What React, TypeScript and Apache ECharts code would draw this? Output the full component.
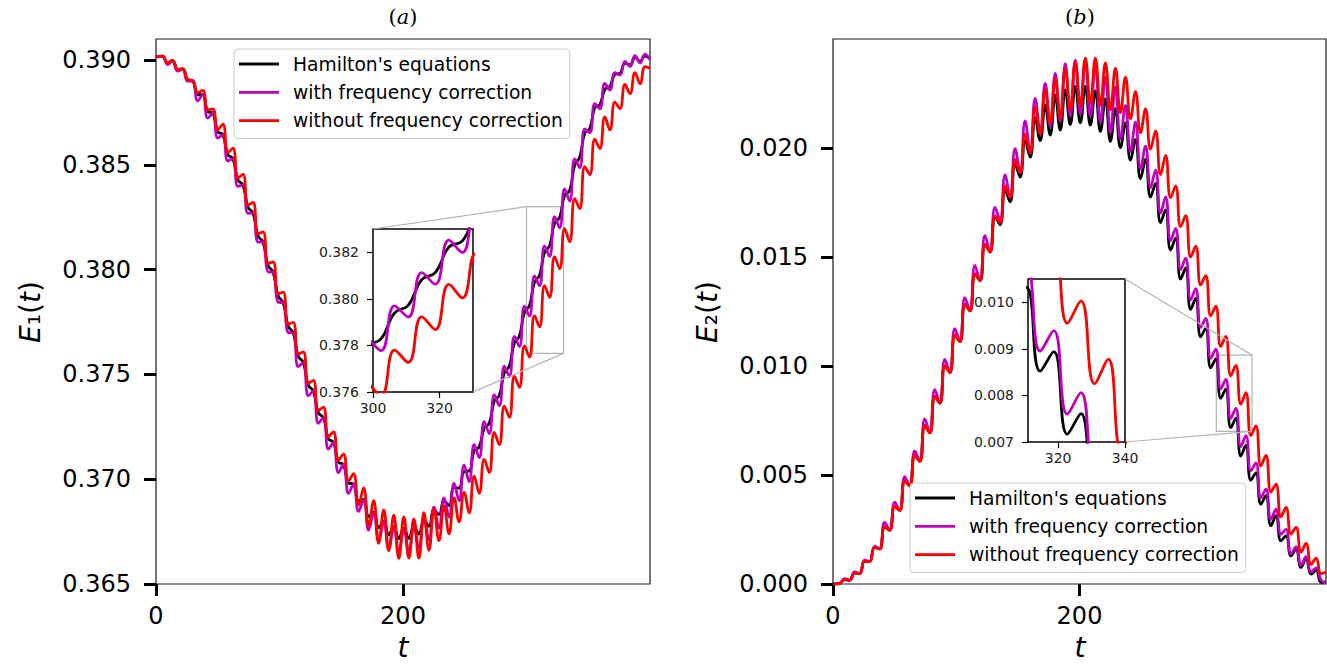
import React, { useEffect, useRef } from "react";
import * as echarts from "echarts";

// time samples (crests / troughs of the fast oscillation)
const T = [0, 5.30, 9.37, 13.44, 17.51, 21.58, 25.65, 29.72, 33.79, 37.86, 41.93, 46.00, 50.07, 54.14, 58.21, 62.28, 66.35, 70.42, 74.49, 78.56, 82.63, 86.70, 90.77, 94.84, 98.91, 102.98, 107.05, 111.12, 115.19, 119.26, 123.33, 127.40, 131.47, 135.54, 139.61, 143.68, 147.75, 151.82, 155.89, 159.96, 164.03, 168.10, 172.17, 176.24, 180.31, 184.38, 188.45, 192.52, 196.59, 200.66, 204.73, 208.80, 212.87, 216.94, 221.01, 225.08, 229.15, 233.22, 237.29, 241.36, 245.43, 249.50, 253.57, 257.64, 261.71, 265.78, 269.85, 273.92, 277.99, 282.06, 286.13, 290.20, 294.27, 298.34, 302.41, 306.48, 310.55, 314.62, 318.69, 322.76, 326.83, 330.90, 334.97, 339.04, 343.11, 347.18, 351.25, 355.32, 359.39, 363.46, 367.53, 371.60, 375.67, 379.74, 383.81, 387.88, 391.95, 396.02, 400];

const E1_HAM = [0.39015, 0.39018, 0.38986, 0.38997, 0.38955, 0.38957, 0.38907, 0.38901, 0.38834, 0.38835, 0.38753, 0.38746, 0.38657, 0.38644, 0.38548, 0.38529, 0.38427, 0.38404, 0.38298, 0.38270, 0.38161, 0.38130, 0.38019, 0.37987, 0.37874, 0.37842, 0.37730, 0.37698, 0.37587, 0.37557, 0.37448, 0.37421, 0.37317, 0.37294, 0.37193, 0.37176, 0.37081, 0.37070, 0.36982, 0.36977, 0.36896, 0.36904, 0.36822, 0.36843, 0.36769, 0.36799, 0.36734, 0.36773, 0.36717, 0.36765, 0.36718, 0.36776, 0.36738, 0.36805, 0.36776, 0.36852, 0.36832, 0.36896, 0.36874, 0.36961, 0.36957, 0.37037, 0.37039, 0.37135, 0.37153, 0.37244, 0.37267, 0.37373, 0.37400, 0.37509, 0.37540, 0.37651, 0.37683, 0.37796, 0.37828, 0.37940, 0.37972, 0.38083, 0.38113, 0.38222, 0.38249, 0.38355, 0.38377, 0.38498, 0.38536, 0.38651, 0.38673, 0.38772, 0.38787, 0.38860, 0.38874, 0.38931, 0.38936, 0.38985, 0.38977, 0.39012, 0.38994, 0.39020, 0.39005];

const E1_WITH = [0.39015, 0.39016, 0.38978, 0.38995, 0.38947, 0.38955, 0.38899, 0.38899, 0.38804, 0.38835, 0.38723, 0.38746, 0.38627, 0.38644, 0.38518, 0.38529, 0.38397, 0.38404, 0.38268, 0.38270, 0.38131, 0.38130, 0.37989, 0.37987, 0.37844, 0.37842, 0.37700, 0.37698, 0.37537, 0.37557, 0.37398, 0.37421, 0.37267, 0.37294, 0.37143, 0.37176, 0.37031, 0.37070, 0.36932, 0.36977, 0.36846, 0.36899, 0.36757, 0.36838, 0.36704, 0.36794, 0.36669, 0.36768, 0.36652, 0.36760, 0.36653, 0.36771, 0.36673, 0.36810, 0.36711, 0.36867, 0.36767, 0.36911, 0.36819, 0.36981, 0.36897, 0.37067, 0.36989, 0.37165, 0.37103, 0.37274, 0.37217, 0.37403, 0.37350, 0.37539, 0.37490, 0.37681, 0.37633, 0.37826, 0.37778, 0.37970, 0.37922, 0.38113, 0.38063, 0.38252, 0.38199, 0.38385, 0.38327, 0.38528, 0.38486, 0.38671, 0.38653, 0.38792, 0.38767, 0.38888, 0.38856, 0.38939, 0.38928, 0.38993, 0.38969, 0.39020, 0.38986, 0.39028, 0.39000];

const E1_WITHOUT = [0.39015, 0.39018, 0.38986, 0.38997, 0.38955, 0.38957, 0.38907, 0.38901, 0.38844, 0.38855, 0.38763, 0.38766, 0.38667, 0.38694, 0.38558, 0.38579, 0.38437, 0.38454, 0.38308, 0.38320, 0.38171, 0.38180, 0.38029, 0.38037, 0.37884, 0.37892, 0.37740, 0.37748, 0.37597, 0.37607, 0.37458, 0.37471, 0.37327, 0.37344, 0.37203, 0.37226, 0.37091, 0.37120, 0.36992, 0.37027, 0.36876, 0.36959, 0.36777, 0.36898, 0.36694, 0.36854, 0.36659, 0.36828, 0.36622, 0.36820, 0.36623, 0.36811, 0.36623, 0.36840, 0.36661, 0.36857, 0.36707, 0.36871, 0.36739, 0.36911, 0.36797, 0.36937, 0.36839, 0.37015, 0.36933, 0.37094, 0.37032, 0.37223, 0.37165, 0.37349, 0.37295, 0.37491, 0.37438, 0.37636, 0.37583, 0.37780, 0.37727, 0.37923, 0.37868, 0.38062, 0.38004, 0.38195, 0.38132, 0.38338, 0.38291, 0.38491, 0.38453, 0.38622, 0.38577, 0.38728, 0.38666, 0.38799, 0.38768, 0.38883, 0.38839, 0.38940, 0.38886, 0.38968, 0.38960];

const E2_HAM = [0.00000, 0.00002, 0.00020, 0.00017, 0.00050, 0.00048, 0.00104, 0.00104, 0.00168, 0.00161, 0.00262, 0.00247, 0.00356, 0.00338, 0.00473, 0.00450, 0.00590, 0.00563, 0.00727, 0.00693, 0.00861, 0.00830, 0.01000, 0.00970, 0.01141, 0.01112, 0.01283, 0.01253, 0.01422, 0.01391, 0.01558, 0.01523, 0.01687, 0.01648, 0.01807, 0.01753, 0.01927, 0.01867, 0.02034, 0.01958, 0.02138, 0.02034, 0.02196, 0.02059, 0.02242, 0.02082, 0.02267, 0.02107, 0.02283, 0.02115, 0.02282, 0.02105, 0.02262, 0.02076, 0.02225, 0.02030, 0.02181, 0.02002, 0.02115, 0.01944, 0.02039, 0.01860, 0.01949, 0.01775, 0.01838, 0.01658, 0.01716, 0.01532, 0.01586, 0.01399, 0.01450, 0.01260, 0.01310, 0.01134, 0.01173, 0.00992, 0.01032, 0.00852, 0.00894, 0.00717, 0.00761, 0.00587, 0.00636, 0.00476, 0.00510, 0.00366, 0.00405, 0.00267, 0.00313, 0.00198, 0.00221, 0.00129, 0.00160, 0.00076, 0.00116, 0.00045, 0.00064, 0.00007, 0.00010];

const E2_WITH = [0.00000, 0.00002, 0.00025, 0.00017, 0.00055, 0.00048, 0.00109, 0.00104, 0.00173, 0.00161, 0.00282, 0.00247, 0.00376, 0.00338, 0.00493, 0.00450, 0.00610, 0.00563, 0.00757, 0.00693, 0.00891, 0.00830, 0.01030, 0.00970, 0.01171, 0.01112, 0.01313, 0.01253, 0.01462, 0.01391, 0.01598, 0.01523, 0.01727, 0.01668, 0.01877, 0.01773, 0.01997, 0.01887, 0.02124, 0.01978, 0.02228, 0.02074, 0.02296, 0.02099, 0.02342, 0.02122, 0.02387, 0.02147, 0.02403, 0.02155, 0.02402, 0.02145, 0.02382, 0.02116, 0.02325, 0.02070, 0.02281, 0.02042, 0.02195, 0.01984, 0.02119, 0.01903, 0.02009, 0.01818, 0.01898, 0.01701, 0.01776, 0.01575, 0.01631, 0.01442, 0.01495, 0.01303, 0.01355, 0.01177, 0.01218, 0.01035, 0.01077, 0.00895, 0.00939, 0.00760, 0.00806, 0.00630, 0.00681, 0.00519, 0.00555, 0.00396, 0.00435, 0.00297, 0.00343, 0.00228, 0.00251, 0.00139, 0.00170, 0.00086, 0.00126, 0.00055, 0.00074, 0.00017, 0.00005];

const E2_WITHOUT = [0.00000, 0.00002, 0.00020, 0.00017, 0.00050, 0.00048, 0.00104, 0.00104, 0.00168, 0.00161, 0.00262, 0.00247, 0.00356, 0.00338, 0.00473, 0.00450, 0.00590, 0.00563, 0.00727, 0.00693, 0.00861, 0.00830, 0.01000, 0.00970, 0.01141, 0.01112, 0.01283, 0.01253, 0.01422, 0.01391, 0.01558, 0.01523, 0.01687, 0.01658, 0.01827, 0.01773, 0.01947, 0.01887, 0.02064, 0.01978, 0.02188, 0.02064, 0.02266, 0.02114, 0.02317, 0.02137, 0.02362, 0.02177, 0.02393, 0.02195, 0.02412, 0.02205, 0.02412, 0.02196, 0.02390, 0.02175, 0.02366, 0.02162, 0.02325, 0.02134, 0.02259, 0.02070, 0.02179, 0.01995, 0.02078, 0.01878, 0.01966, 0.01772, 0.01826, 0.01639, 0.01690, 0.01500, 0.01550, 0.01372, 0.01415, 0.01230, 0.01274, 0.01090, 0.01136, 0.00955, 0.01003, 0.00825, 0.00878, 0.00681, 0.00725, 0.00541, 0.00590, 0.00422, 0.00458, 0.00308, 0.00351, 0.00229, 0.00260, 0.00146, 0.00186, 0.00090, 0.00119, 0.00047, 0.00055];

const NAMES = ["Hamilton's equations", "with frequency correction", "without frequency correction"];
const COLORS = ["#000000", "#bf00bf", "#ff0000"];

const T_TICKS = [0, 200];
const E1_TICKS = [0.365, 0.37, 0.375, 0.38, 0.385, 0.39];
const E2_TICKS = [0, 0.005, 0.01, 0.015, 0.02];
const IN1_X_TICKS = [300, 320];
const IN1_Y_TICKS = [0.376, 0.378, 0.38, 0.382];
const IN2_X_TICKS = [320, 340];
const IN2_Y_TICKS = [0.007, 0.008, 0.009, 0.01];

const FONT = "'DejaVu Sans', sans-serif";

function buildOption() {
  const fmt3 = (v: number) => v.toFixed(3);

  const grid = [
    { left: 156, top: 39, width: 494, height: 545, show: true, backgroundColor: "rgba(0,0,0,0)", borderColor: "#1a1a1a", borderWidth: 1.2, containLabel: false, outerBoundsMode: "none", z: 0 },
    { left: 833, top: 39, width: 493, height: 545, show: true, backgroundColor: "rgba(0,0,0,0)", borderColor: "#1a1a1a", borderWidth: 1.2, containLabel: false, outerBoundsMode: "none", z: 0 },
    { left: 373, top: 229, width: 100, height: 163, show: true, backgroundColor: "#ffffff", borderColor: "#000000", borderWidth: 1.5, containLabel: false, outerBoundsMode: "none", z: 5 },
    { left: 1028, top: 279, width: 97, height: 163, show: true, backgroundColor: "#ffffff", borderColor: "#000000", borderWidth: 1.5, containLabel: false, outerBoundsMode: "none", z: 5 },
  ];

  const mainAxis = (gi: number, min: number, max: number, interval: number, ticks: number[], isY: boolean) => ({
    type: "value",
    gridIndex: gi,
    min,
    max,
    interval,
    axisLine: { show: false, onZero: false },
    axisTick: { show: true, inside: false, length: 12, lineStyle: { color: "#000", width: 3 }, customValues: ticks },
    axisLabel: {
      show: true,
      customValues: ticks,
      fontSize: 24,
      fontFamily: FONT,
      color: "#000",
      margin: isY ? 25 : 20,
      formatter: isY ? fmt3 : (v: number) => String(Math.round(v)),
    },
    splitLine: { show: false },
  });

  const insetAxis = (gi: number, min: number, max: number, interval: number | undefined, ticks: number[], isY: boolean) => {
    const ax: any = {
      type: "value",
      gridIndex: gi,
      min,
      max,
      z: 6,
      axisLine: { show: false, onZero: false },
      axisTick: { show: true, inside: false, length: 6, lineStyle: { color: "#000", width: 1.2 }, customValues: ticks },
      axisLabel: {
        show: true,
        customValues: ticks,
        fontSize: 14,
        fontFamily: FONT,
        color: "#222",
        margin: isY ? 14 : 9,
        formatter: isY ? fmt3 : (v: number) => String(Math.round(v)),
      },
      splitLine: { show: false },
    };
    if (interval !== undefined) ax.interval = interval;
    return ax;
  };

  const xAxis = [
    mainAxis(0, 0, 400, 200, T_TICKS, false),
    mainAxis(1, 0, 400, 200, T_TICKS, false),
    insetAxis(2, 300, 330, 10, IN1_X_TICKS, false),
    insetAxis(3, 311, 340, undefined, IN2_X_TICKS, false),
  ];
  const yAxis = [
    mainAxis(0, 0.365, 0.391, 0.005, E1_TICKS, true),
    mainAxis(1, 0, 0.025, 0.005, E2_TICKS, true),
    insetAxis(2, 0.376, 0.383, 0.001, IN1_Y_TICKS, true),
    insetAxis(3, 0.007, 0.0105, 0.001, IN2_Y_TICKS, true),
  ];

  const line = (k: number, values: number[], idx: number, z: number, extra: any = {}) => ({
    type: "line",
    name: NAMES[k],
    xAxisIndex: idx,
    yAxisIndex: idx,
    data: T.map((t, i) => [t, values[i]]),
    showSymbol: false,
    symbol: "none",
    smooth: 0.45,
    clip: true,
    silent: true,
    animation: false,
    color: COLORS[k],
    itemStyle: { color: COLORS[k] },
    lineStyle: { color: COLORS[k], width: 2.8 },
    z,
    ...extra,
  });

  const guide = { color: "#b3b3b3", width: 1.2, type: "solid" };
  const zoomMarks = (x0: number, y0: number, x1: number, y1: number, links: any[]) => ({
    markArea: {
      silent: true,
      animation: false,
      label: { show: false },
      itemStyle: { color: "rgba(0,0,0,0)", borderColor: "#b3b3b3", borderWidth: 1.2 },
      data: [[{ coord: [x0, y0] }, { coord: [x1, y1] }]],
    },
    markLine: {
      silent: true,
      animation: false,
      symbol: ["none", "none"],
      label: { show: false },
      lineStyle: guide,
      data: links,
    },
  });

  const series = [
    line(0, E1_HAM, 0, 2, zoomMarks(300, 0.376, 330, 0.383, [
      [{ coord: [300, 0.383] }, { x: 373, y: 229 }],
      [{ coord: [330, 0.376] }, { x: 473, y: 392 }],
    ])),
    line(1, E1_WITH, 0, 2),
    line(2, E1_WITHOUT, 0, 2),
    line(0, E2_HAM, 1, 2, zoomMarks(311, 0.007, 340, 0.0105, [
      [{ coord: [340, 0.0105] }, { x: 1125, y: 279 }],
      [{ coord: [340, 0.007] }, { x: 1125, y: 442 }],
    ])),
    line(1, E2_WITH, 1, 2),
    line(2, E2_WITHOUT, 1, 2),
    line(0, E1_HAM, 2, 7),
    line(1, E1_WITH, 2, 7),
    line(2, E1_WITHOUT, 2, 7),
    line(0, E2_HAM, 3, 7),
    line(1, E2_WITH, 3, 7),
    line(2, E2_WITHOUT, 3, 7),
  ];

  const legendBase = {
    orient: "vertical",
    data: NAMES,
    icon: "rect",
    itemWidth: 40,
    itemHeight: 2.8,
    itemGap: 8.3,
    padding: [5, 7, 8, 5],
    selectedMode: false,
    backgroundColor: "rgba(255,255,255,0.8)",
    borderColor: "#cccccc",
    borderWidth: 1,
    borderRadius: 4,
    z: 4,
    textStyle: { fontSize: 18.7, fontFamily: FONT, color: "#000", lineHeight: 20, padding: [0, 0, 0, 9] },
  };

  const txt = (x: number, y: number, text: string, font: string, extra: any = {}) => ({
    type: "text",
    x,
    y,
    silent: true,
    ...extra,
    style: {
      text,
      font,
      fill: "#000",
      align: "center",
      verticalAlign: "middle",
      textAlign: "center",
      textVerticalAlign: "middle",
      ...(extra.style || {}),
    },
  });

  const ylab = (x: number, sub: string) => ({
    type: "text",
    x,
    y: 312,
    rotation: Math.PI / 2,
    silent: true,
    style: {
      text: `{i|E}{n|${sub}(}{i|t}{n|)}`,
      font: `28px ${FONT}`,
      fill: "#000",
      align: "center",
      verticalAlign: "middle",
      textAlign: "center",
      textVerticalAlign: "middle",
      rich: {
        i: { fontFamily: FONT, fontSize: 28, fontStyle: "italic", color: "#000" },
        n: { fontFamily: FONT, fontSize: 28, color: "#000" },
      },
    },
  });

  const title = (x: number, letter: string) => ({
    type: "text",
    x,
    y: 17,
    silent: true,
    style: {
      text: `{n|(}{i|${letter}}{n|)}`,
      font: "21px 'DejaVu Serif', serif",
      fill: "#000",
      align: "center",
      verticalAlign: "middle",
      textAlign: "center",
      textVerticalAlign: "middle",
      rich: {
        i: { fontFamily: "'DejaVu Serif', serif", fontSize: 21, fontStyle: "italic", color: "#000" },
        n: { fontFamily: "'DejaVu Serif', serif", fontSize: 21, color: "#000" },
      },
    },
  });

  const graphic = [
    title(403, "a"),
    title(1080, "b"),
    txt(403, 647, "t", `italic 28px ${FONT}`),
    txt(1080, 647, "t", `italic 28px ${FONT}`),
    ylab(30, "\u2081"),
    ylab(707, "\u2082"),
  ];

  return {
    animation: false,
    backgroundColor: "#ffffff",
    grid,
    xAxis,
    yAxis,
    series,
    legend: [
      { ...legendBase, left: 234, top: 49 },
      { ...legendBase, left: 910, top: 483 },
    ],
    graphic,
  };
}

export default function App() {
  const ref = useRef<HTMLDivElement>(null);
  useEffect(() => {
    if (!ref.current) return;
    const chart = echarts.init(ref.current, undefined, { renderer: "svg", width: 1327, height: 668 });
    chart.setOption(buildOption() as any);
    return () => {
      chart.dispose();
    };
  }, []);
  return (
    <div
      ref={ref}
      style={{ position: "absolute", left: 0, top: 0, width: 1327, height: 668, background: "#ffffff" }}
    />
  );
}
